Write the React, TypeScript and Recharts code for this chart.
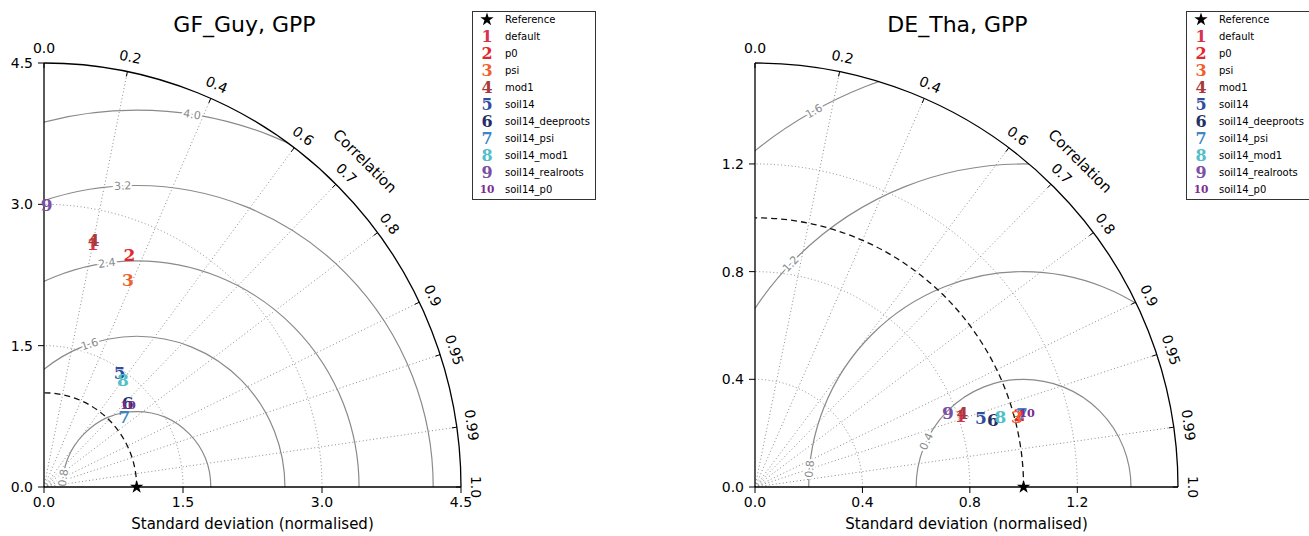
import React from "react";
import * as R from "recharts";

const { ScatterChart, Scatter, XAxis, YAxis, Customized, Symbols } = R as any;

// models shown in both diagrams
const models = [
  "default",
  "p0",
  "psi",
  "mod1",
  "soil14",
  "soil14_deeproots",
  "soil14_psi",
  "soil14_mod1",
  "soil14_realroots",
  "soil14_p0",
];
const modelColors = [
  "#d6334f",
  "#e3262b",
  "#f0602d",
  "#a83a3c",
  "#2f4d9c",
  "#232f66",
  "#3d85c6",
  "#52bfc9",
  "#7a4fa5",
  "#7b2c8f",
];

// GF_Guy: normalised std and correlation per model
const guyStd = [2.63, 2.63, 2.38, 2.68, 1.46, 1.27, 1.14, 1.42, 2.99, 1.26];
const guyCorr = [0.2, 0.35, 0.38, 0.2, 0.56, 0.71, 0.76, 0.6, 0.01, 0.72];

// DE_Tha
const thaStd = [0.81, 1.02, 1.01, 0.82, 0.88, 0.92, 1.03, 0.95, 0.77, 1.05];
const thaCorr = [0.946, 0.965, 0.966, 0.942, 0.956, 0.963, 0.965, 0.962, 0.933, 0.965];

const refStd = 1;
const corrTicks = [0, 0.2, 0.4, 0.6, 0.7, 0.8, 0.9, 0.95, 0.99, 1];
const guyStdTicks = [0, 1.5, 3, 4.5];
const thaStdTicks = [0, 0.4, 0.8, 1.2];
const guyRmsLevels = [0.8, 1.6, 2.4, 3.2, 4.0];
const thaRmsLevels = [0.4, 0.8, 1.2, 1.6];

const FONT = '"DejaVu Sans", sans-serif';
const MARK_FONT = '"DejaVu Serif", "Liberation Serif", serif';
const GRID = "#6e6e6e";
const CONTOUR = "#8a8a8a";
const H = 536;
const TOP = 63;
const XAXIS_H = 49;

const usePlotAreaHook = (R as any).usePlotArea;

function usePanelArea(fallback: any) {
  const area = usePlotAreaHook ? usePlotAreaHook() : null;
  return area && area.width > 0 ? area : fallback;
}

// text marker, two-digit labels shrunk to the same box like matplotlib's $10$
function Digit({ cx, cy, label, color, size = 17 }: any) {
  const fs = label.length > 1 ? size * 0.66 : size;
  return (
    <text
      x={cx}
      y={cy}
      dy="0.36em"
      textAnchor="middle"
      fontFamily={MARK_FONT}
      fontSize={fs}
      fontWeight="bold"
      fill={color}
    >
      {label}
    </text>
  );
}

function Star({ cx, cy }: any) {
  return <Symbols type="star" size={55} cx={cx} cy={cy} fill="#000" />;
}

const fmtCorr = (c: number) => (c === 0 || c === 1 ? c.toFixed(1) : String(c));

function TaylorOverlay({ cfg }: any) {
  const area = usePanelArea(cfg.fallback);
  const ox = area.x;
  const oy = area.y + area.height;
  const smax = cfg.smax;
  const kx = area.width / smax;
  const ky = area.height / smax;
  const sx = (v: number) => ox + v * kx;
  const sy = (v: number) => oy - v * ky;
  const arc = (r: number) =>
    `M ${sx(r)} ${oy} A ${r * kx} ${r * ky} 0 0 0 ${ox} ${sy(r)}`;
  const clipId = `clip-${cfg.id}`;

  return (
    <g>
      <defs>
        <clipPath id={clipId}>
          <path d={`${arc(smax)} L ${ox} ${oy} Z`} />
        </clipPath>
      </defs>

      {/* dotted std arcs */}
      {cfg.stdTicks
        .filter((t: number) => t > 0 && t < smax)
        .map((t: number) => (
          <path
            key={`s${t}`}
            d={arc(t)}
            fill="none"
            stroke={GRID}
            strokeWidth={0.8}
            strokeDasharray="1 2.5"
          />
        ))}

      {/* correlation rays */}
      {corrTicks
        .filter((c) => c > 0 && c < 1)
        .map((c) => {
          const th = Math.acos(c);
          return (
            <line
              key={`r${c}`}
              x1={ox}
              y1={oy}
              x2={sx(smax * Math.cos(th))}
              y2={sy(smax * Math.sin(th))}
              stroke={GRID}
              strokeWidth={0.8}
              strokeDasharray="1 2.5"
            />
          );
        })}

      {/* centred RMS difference contours */}
      <g clipPath={`url(#${clipId})`}>
        {cfg.levels.map((l: number) => (
          <ellipse
            key={`c${l}`}
            cx={sx(refStd)}
            cy={oy}
            rx={l * kx}
            ry={l * ky}
            fill="none"
            stroke={CONTOUR}
            strokeWidth={1.2}
          />
        ))}
      </g>
      {cfg.levels.map((l: number, i: number) => {
        const deg = cfg.levelAngles[i];
        const phi = (deg * Math.PI) / 180;
        const lx = sx(refStd + l * Math.cos(phi));
        const ly = sy(l * Math.sin(phi));
        return (
          <text
            key={`cl${l}`}
            transform={`translate(${lx},${ly}) rotate(${90 - deg})`}
            dy="0.35em"
            textAnchor="middle"
            fontSize={11}
            fill={CONTOUR}
            stroke="#fff"
            strokeWidth={4}
            paintOrder="stroke"
          >
            {l.toFixed(1)}
          </text>
        );
      })}

      {/* reference std arc */}
      <path
        d={arc(refStd)}
        fill="none"
        stroke="#111"
        strokeWidth={1.3}
        strokeDasharray="6 4"
      />

      {/* outer boundary */}
      <path d={arc(smax)} fill="none" stroke="#000" strokeWidth={1.3} />

      {corrTicks.map((c) => {
        const th = Math.acos(c);
        const ux = Math.cos(th);
        const uy = -Math.sin(th);
        const ax = sx(smax * ux);
        const ay = sy(smax * Math.sin(th));
        const rot = 90 - (th * 180) / Math.PI;
        return (
          <g key={`ct${c}`}>
            <line x1={ax} y1={ay} x2={ax - 5 * ux} y2={ay - 5 * uy} stroke="#000" />
            <text
              transform={`translate(${ax + 10 * ux},${ay + 10 * uy}) rotate(${rot})`}
              textAnchor="middle"
              fontSize={14}
              fill="#000"
            >
              {fmtCorr(c)}
            </text>
          </g>
        );
      })}
      {(() => {
        const th = Math.PI / 4;
        const lx = sx(smax * Math.cos(th)) + 37 * Math.cos(th);
        const ly = sy(smax * Math.sin(th)) - 37 * Math.sin(th);
        return (
          <text
            transform={`translate(${lx},${ly}) rotate(45)`}
            dy="0.35em"
            textAnchor="middle"
            fontSize={15}
            fill="#000"
          >
            Correlation
          </text>
        );
      })()}

      <text
        x={area.x + area.width / 2 + cfg.titleDx}
        y={32}
        textAnchor="middle"
        fontSize={22}
        fill="#000"
      >
        {cfg.title}
      </text>

      {/* legend */}
      <g transform={`translate(${cfg.legendX},11)`}>
        <rect x={0.5} y={0.5} width={123} height={188} fill="#fff" stroke="#333" />
        <Star cx={15} cy={8.5} />
        <text x={33} y={12} fontSize={10} fill="#000">
          Reference
        </text>
        {models.map((m, i) => (
          <g key={m}>
            <Digit cx={15} cy={8.5 + 17 * (i + 1)} label={String(i + 1)} color={modelColors[i]} size={16} />
            <text x={33} y={12 + 17 * (i + 1)} fontSize={10} fill="#000">
              {m}
            </text>
          </g>
        ))}
      </g>
    </g>
  );
}

function TaylorPanel({ cfg }: any) {
  const points = cfg.std.map((s: number, i: number) => [
    { x: s * cfg.corr[i], y: s * Math.sqrt(1 - cfg.corr[i] * cfg.corr[i]) },
  ]);
  const plotW = cfg.width - cfg.marginRight - cfg.yAxisWidth;
  const fallback = { x: cfg.yAxisWidth, y: TOP, width: plotW, height: H - TOP - XAXIS_H };
  const full = { ...cfg, fallback };
  return (
    <div style={{ position: "absolute", left: cfg.left, top: 0 }}>
      <ScatterChart
        width={cfg.width}
        height={H}
        margin={{ top: TOP, right: cfg.marginRight, bottom: 0, left: 0 }}
      >
        <XAxis
          type="number"
          dataKey="x"
          domain={[0, cfg.smax]}
          ticks={cfg.stdTicks}
          interval={0}
          height={XAXIS_H}
          tickFormatter={(v: number) => v.toFixed(1)}
          tick={{ fill: "#000", fontSize: 14 }}
          tickLine={{ stroke: "#000" }}
          axisLine={{ stroke: "#000", strokeWidth: 1.3 }}
          tickSize={6}
          tickMargin={4}
          label={{
            value: "Standard deviation (normalised)",
            position: "insideBottom",
            offset: 7,
            fill: "#000",
            fontSize: 15,
          }}
        />
        <YAxis
          type="number"
          dataKey="y"
          domain={[0, cfg.smax]}
          ticks={cfg.stdTicks}
          interval={0}
          width={cfg.yAxisWidth}
          tickFormatter={(v: number) => v.toFixed(1)}
          tick={{ fill: "#000", fontSize: 14 }}
          tickLine={{ stroke: "#000" }}
          axisLine={{ stroke: "#000", strokeWidth: 1.3 }}
          tickSize={6}
          tickMargin={5}
        />
        <Customized component={<TaylorOverlay cfg={full} />} />
        {points.map((pts: any, i: number) => (
          <Scatter
            key={models[i]}
            name={models[i]}
            data={pts}
            isAnimationActive={false}
            shape={(p: any) => (
              <Digit cx={p.cx} cy={p.cy} label={String(i + 1)} color={modelColors[i]} />
            )}
          />
        ))}
        <Scatter
          name="Reference"
          data={[{ x: refStd, y: 0 }]}
          isAnimationActive={false}
          shape={(p: any) => <Star cx={p.cx} cy={p.cy} />}
        />
      </ScatterChart>
    </div>
  );
}

const guyPanel = {
  id: "guy",
  title: "GF_Guy, GPP",
  smax: 4.5,
  stdTicks: guyStdTicks,
  levels: guyRmsLevels,
  levelAngles: [173, 108.5, 97.7, 92.7, 81.4],
  std: guyStd,
  corr: guyCorr,
  left: 0,
  width: 640,
  marginRight: 179,
  yAxisWidth: 44,
  titleDx: -8,
  legendX: 472,
};

const thaPanel = {
  id: "tha",
  title: "DE_Tha, GPP",
  smax: 1.575,
  stdTicks: thaStdTicks,
  levels: thaRmsLevels,
  levelAngles: [154.9, 175.2, 136.3, 119.2],
  std: thaStd,
  corr: thaCorr,
  left: 700,
  width: 609,
  marginRight: 131,
  yAxisWidth: 55,
  titleDx: -9,
  legendX: 486,
};

export default function App() {
  return (
    <div
      style={{
        position: "absolute",
        left: 0,
        top: 0,
        width: 1309,
        height: H,
        overflow: "hidden",
        background: "#fff",
        fontFamily: FONT,
      }}
    >
      <TaylorPanel cfg={guyPanel} />
      <TaylorPanel cfg={thaPanel} />
    </div>
  );
}
